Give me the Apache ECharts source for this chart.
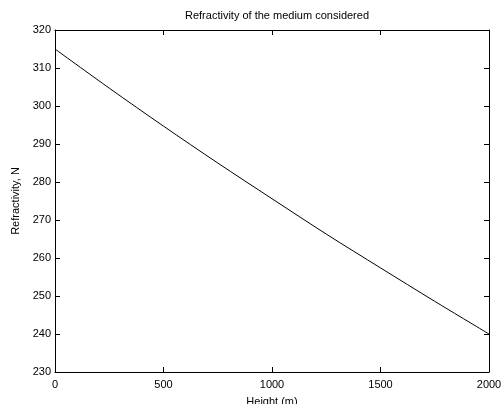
<!DOCTYPE html>
<html><head><meta charset="utf-8">
<script src="https://cdn.jsdelivr.net/npm/echarts@6/dist/echarts.min.js"></script>
<style>html,body{margin:0;padding:0;background:#fff;overflow:hidden}#c{width:504px;height:404px}</style>
</head><body><div id="c"></div>
<script>
const heights = [0, 250, 500, 750, 1000, 1250, 1500, 1750, 2000];
const refractivity = [315.0, 304.7, 294.7, 285.0, 275.6, 266.3, 257.4, 248.6, 240.0];
const titleText = 'Refractivity of the medium considered';
const xLabel = 'Height (m)';
const yLabel = 'Refractivity, N';

const font = 'Liberation Sans, Arial, sans-serif';
const chart = echarts.init(document.getElementById('c'), null, {renderer: 'canvas'});
const baseAxis = {
  axisLine: {show: true, onZero: false, lineStyle: {color: '#000', width: 1}},
  axisTick: {show: true, inside: true, length: 5, lineStyle: {color: '#000'}},
  splitLine: {show: false}
};
chart.setOption({
  animation: false,
  backgroundColor: '#fff',
  title: {text: titleText, left: 272, top: 5, textAlign: 'center',
    textStyle: {fontFamily: font, fontSize: 11, fontWeight: 'normal', color: '#000'}},
  grid: {left: 55, right: 15, top: 30, bottom: 32, containLabel: false, outerBoundsMode: 'none'},
  xAxis: [
    Object.assign({type: 'value', min: 0, max: 2000, interval: 500, position: 'bottom',
      name: xLabel, nameLocation: 'middle', nameGap: 24,
      nameTextStyle: {fontFamily: font, fontSize: 11, color: '#000'},
      axisLabel: {fontFamily: font, fontSize: 11, color: '#000', margin: 7,
        formatter: v => String(v)}}, baseAxis),
    Object.assign({type: 'value', min: 0, max: 2000, interval: 500, position: 'top',
      axisLabel: {show: false}}, baseAxis)
  ],
  yAxis: [
    Object.assign({type: 'value', min: 230, max: 320, interval: 10, position: 'left',
      name: yLabel, nameLocation: 'middle', nameGap: 33,
      nameTextStyle: {fontFamily: font, fontSize: 11, color: '#000'},
      axisLabel: {fontFamily: font, fontSize: 11, color: '#000', margin: 4}}, baseAxis),
    Object.assign({type: 'value', min: 230, max: 320, interval: 10, position: 'right',
      axisLabel: {show: false}}, baseAxis)
  ],
  series: [{
    type: 'line', xAxisIndex: 0, yAxisIndex: 0,
    data: heights.map((h, i) => [h, refractivity[i]]),
    smooth: 0.3, showSymbol: false,
    lineStyle: {color: '#000', width: 1}
  }]
});
</script></body></html>
